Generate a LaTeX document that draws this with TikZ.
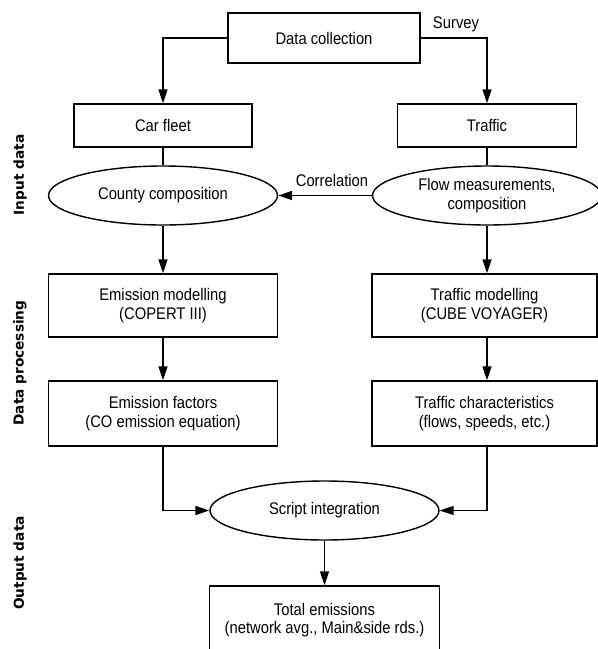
\documentclass[tikz,border=0pt]{standalone}
\usepackage{fontspec}
\setmainfont{Liberation Sans}[FakeStretch=0.88]
\newfontfamily\labfont{DejaVu Sans}
\usetikzlibrary{shapes.geometric,arrows.meta}
\begin{document}
\begin{tikzpicture}[x=1pt,y=-1pt,
  every node/.style={font=\fontsize{16.8}{18.5}\selectfont, inner sep=0pt, align=center},
  boxnode/.style={draw, line width=1.4pt, rectangle},
  ellnode/.style={draw, line width=1.4pt, ellipse, minimum width=229pt, minimum height=59pt},
  sidelabel/.style={rotate=90, font=\labfont\bfseries\fontsize{13.7}{16}\selectfont},
  conn/.style={line width=1.4pt},
  arr/.style={line width=1.4pt, -{Triangle[length=14pt,width=9pt]}}]
\useasboundingbox (0,0) rectangle (598,649);
% side labels
\node[sidelabel] (lin) at (20,175) {Input data};
\node[sidelabel] (lproc) at (20,363) {Data processing};
\node[sidelabel] (lout) at (20,563) {Output data};
% column coordinates
\coordinate (colL) at (163,0);
\coordinate (colR) at (487,0);
% nodes
\node[boxnode, minimum width=192pt, minimum height=50pt] (dc) at (324,38) {Data collection};
\node (sv) at (456,24) {Survey};
\node[boxnode, minimum width=178pt, minimum height=43pt] (cf) at (163,125.5) {Car fleet};
\node[boxnode, minimum width=179pt, minimum height=43pt] (tr) at (487,125.5) {Traffic};
\node[ellnode] (cty) at (163,195.5) {County composition};
\node[ellnode] (flow) at (487,195.5) {Flow measurements,\\composition};
\node (corr) at (332,180) {Correlation};
\node[boxnode, minimum width=229pt, minimum height=63pt] (em) at (163,305.5) {Emission modelling\\(COPERT III)};
\node[boxnode, minimum width=225pt, minimum height=63pt] (tm) at (484.5,305.5) {Traffic modelling\\(CUBE VOYAGER)};
\node[boxnode, minimum width=229pt, minimum height=65pt] (ef) at (163,413.5) {Emission factors\\(CO emission equation)};
\node[boxnode, minimum width=225pt, minimum height=65pt] (tc) at (484.5,413.5) {Traffic characteristics\\(flows, speeds, etc.)};
\node[ellnode] (si) at (324.5,510.5) {Script integration};
\node[boxnode, minimum width=230pt, minimum height=68pt] (tot) at (324.5,620) {Total emissions\\(network avg., Main\&side rds.)};
% connectors
\draw[arr] (dc.west) -| (cf.north);
\draw[arr] (dc.east) -| (tr.north);
\draw[conn] (cf.south) -- (cty.north);
\draw[conn] (tr.south) -- (flow.north);
\draw[arr] (flow.west) -- (cty.east);
\draw[arr] (cty.south) -- (em.north);
\draw[arr] (flow.south) -- (flow.south |- tm.north);
\draw[arr] (em.south) -- (ef.north);
\draw[arr] (tm.south -| colR) -- (tc.north -| colR);
\draw[arr] (ef.south) |- (si.west);
\draw[arr] (tc.south -| colR) |- (si.east);
\draw[arr] (si.south) -- (tot.north);
\end{tikzpicture}
\end{document}
